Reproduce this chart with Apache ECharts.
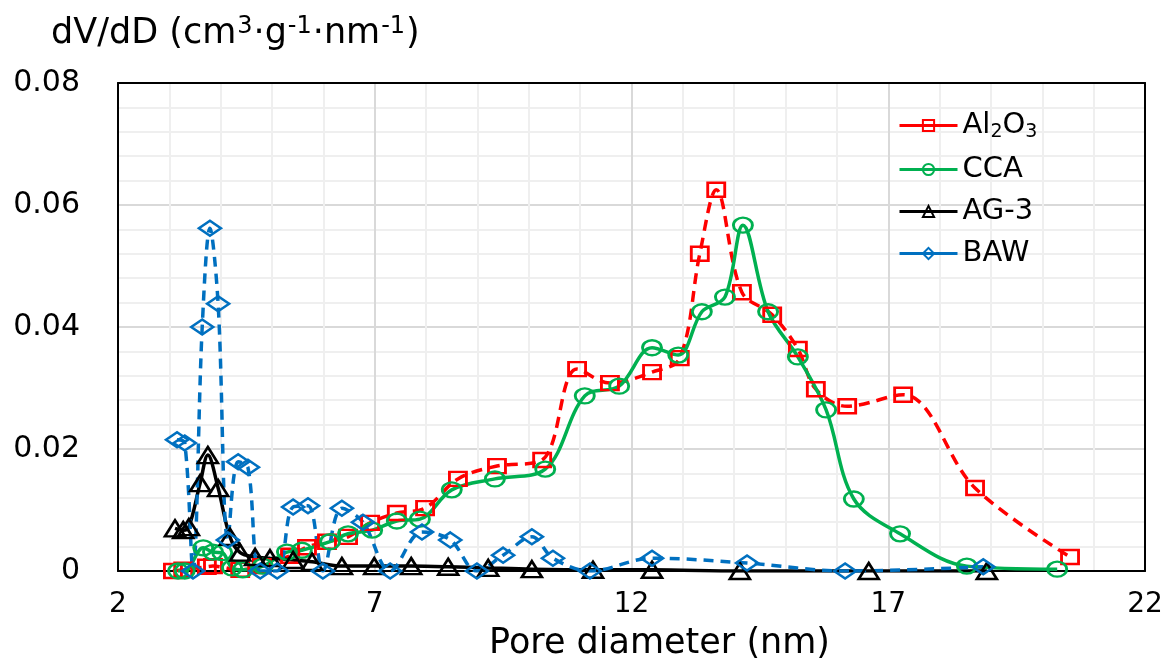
<!DOCTYPE html>
<html>
<head>
<meta charset="utf-8">
<script src="https://cdn.jsdelivr.net/npm/echarts@6/dist/echarts.min.js"></script>
<style>
html,body{margin:0;padding:0;background:#fff;}
#chart{width:1167px;height:659px;}
</style>
</head>
<body>
<div id="chart"></div>
<script>
// Data (x: pore diameter nm, y: dV/dD)
const al2o3X = [3.07,3.27,3.73,3.85,4.38,4.80,5.35,5.68,6.07,6.48,6.91,7.43,7.98,8.62,9.38,10.26,10.94,11.58,12.40,12.94,13.33,13.65,14.15,14.74,15.24,15.59,16.20,17.29,18.69,20.54];
const al2o3Y = [0,0.0002,0.0007,0.0008,0.0002,0.0008,0.0025,0.0039,0.0048,0.0056,0.0079,0.0095,0.0103,0.0151,0.0172,0.0182,0.0331,0.0308,0.0326,0.0349,0.0520,0.0625,0.0457,0.0420,0.0364,0.0298,0.0270,0.0289,0.0136,0.0023];

const ccaX = [3.17,3.30,3.66,3.85,4.03,4.22,4.43,4.82,5.29,5.58,6.13,6.48,6.95,7.43,7.88,8.50,9.34,10.32,11.09,11.76,12.40,12.91,13.37,13.82,14.17,14.66,15.24,15.79,16.33,17.23,18.53,20.29];
const ccaY = [0,0,0.0038,0.0031,0.0030,0.0005,0.0002,0.0008,0.0031,0.0034,0.0048,0.0061,0.0067,0.0082,0.0085,0.0133,0.0151,0.0167,0.0287,0.0303,0.0366,0.0354,0.0425,0.0449,0.0567,0.0425,0.0351,0.0264,0.0118,0.0061,0.0008,0.0003];

const ag3X = [3.11,3.27,3.38,3.60,3.75,3.95,4.18,4.38,4.67,4.96,5.41,5.78,6.36,6.99,7.71,8.43,9.21,10.06,11.25,12.40,14.11,16.62,18.92];
const ag3Y = [0.0070,0.0067,0.0072,0.0144,0.0190,0.0136,0.0056,0.0030,0.0023,0.0021,0.0018,0.0015,0.0008,0.0008,0.0008,0.0007,0.0005,0.0003,0.0002,0.0002,0,0,0];

const bawX = [3.15,3.30,3.46,3.64,3.79,3.95,4.14,4.34,4.53,4.77,5.10,5.41,5.70,5.99,6.36,6.77,7.30,7.92,8.47,8.99,9.50,10.06,10.47,11.19,12.40,14.25,16.16,18.85];
const bawY = [0.0215,0.0210,0,0.0400,0.0562,0.0438,0.0051,0.0179,0.0170,0,0,0.0105,0.0107,0,0.0103,0.0080,0,0.0064,0.0051,0,0.0026,0.0056,0.0021,0,0.0021,0.0013,0,0.0007];

const xTicks = [2,7,12,17,22];
const yTicks = [0,0.02,0.04,0.06,0.08];
const seriesNames = ['Al2O3','CCA','AG-3','BAW'];

function pairs(xs, ys){ return xs.map((x,i)=>[x, ys[i]]); }

const chart = echarts.init(document.getElementById('chart'), null, {renderer:'canvas'});
const font = 'DejaVu Sans';

function mk(name, xs, ys, color, symbol, size, dash){
  return {
    name: name,
    type: 'line',
    data: pairs(xs, ys),
    smooth: 0.35,
    symbol: symbol,
    symbolSize: size,
    showAllSymbol: true,
    lineStyle: {color: color, width: 3.5, type: dash || 'solid'},
    itemStyle: {color: 'rgba(255,255,255,0)', borderColor: color, borderWidth: 2.6},
    emphasis: {disabled: true},
    z: 2
  };
}

const hiddenAxisBits = {
  axisTick: {show: false}, axisLabel: {show: false},
  splitLine: {show: false}, minorSplitLine: {show: false}
};

const option = {
  animation: false,
  backgroundColor: '#fff',
  title: {
    text: 'dV/dD (cm{sup|3}·g{sup|-1}·nm{sup|-1})',
    left: 46, top: 10,
    textStyle: {fontFamily: font, fontSize: 35, fontWeight: 'normal', color: '#000',
      rich: {sup: {fontFamily: font, fontSize: 24, color: '#000', padding: [0,1,13,1]}}}
  },
  grid: {left: 118, right: 22, top: 83, bottom: 88, containLabel: false, outerBoundsMode: 'none'},
  legend: {
    orient: 'vertical',
    left: 893, top: 106,
    itemWidth: 58, itemHeight: 14, itemGap: 13,
    data: seriesNames,
    lineStyle: {type: 'solid', width: 3},
    formatter: function(n){ return n === 'Al2O3' ? 'Al{sub|2}O{sub|3}' : n; },
    textStyle: {fontFamily: font, fontSize: 29, color: '#000',
      rich: {sub: {fontFamily: font, fontSize: 19, color: '#000', padding: [14,0,0,0]}}}
  },
  xAxis: [{
    type: 'value', min: 2, max: 22, interval: 5,
    name: 'Pore diameter (nm)', nameLocation: 'middle', nameGap: 55,
    nameTextStyle: {fontFamily: font, fontSize: 35, color: '#000', padding: [0,0,0,56]},
    axisLine: {show: true, onZero: false, lineStyle: {color: '#000', width: 2}},
    axisTick: {show: false},
    axisLabel: {fontFamily: font, fontSize: 28, color: '#000', margin: 20,
      formatter: v => xTicks.includes(v) ? String(v) : ''},
    splitLine: {show: true, lineStyle: {color: '#d9d9d9', width: 2}},
    minorTick: {show: false, splitNumber: 5},
    minorSplitLine: {show: true, lineStyle: {color: '#efefef', width: 2}}
  }, Object.assign({
    type: 'value', min: 2, max: 22, interval: 5, position: 'top',
    axisLine: {show: true, onZero: false, lineStyle: {color: '#000', width: 2}}
  }, hiddenAxisBits)],
  yAxis: [{
    type: 'value', min: 0, max: 0.08, interval: 0.02,
    axisLine: {show: true, lineStyle: {color: '#000', width: 2}},
    axisTick: {show: false},
    axisLabel: {fontFamily: font, fontSize: 30, color: '#000', margin: 38,
      formatter: v => { const t = yTicks.find(k => Math.abs(k - v) < 1e-9); return t === undefined ? '' : (t === 0 ? '0' : t.toFixed(2)); }},
    splitLine: {show: true, lineStyle: {color: '#d9d9d9', width: 2}},
    minorTick: {show: false, splitNumber: 5},
    minorSplitLine: {show: true, lineStyle: {color: '#efefef', width: 2}}
  }, Object.assign({
    type: 'value', min: 0, max: 0.08, interval: 0.02, position: 'right',
    axisLine: {show: true, onZero: false, lineStyle: {color: '#000', width: 2}}
  }, hiddenAxisBits)],
  series: [
    mk('Al2O3', al2o3X, al2o3Y, '#ff0000', 'rect', [17,14], [11,7]),
    mk('CCA', ccaX, ccaY, '#00b050', 'circle', [19,15], null),
    mk('AG-3', ag3X, ag3Y, '#000000', 'triangle', [20,16], null),
    mk('BAW', bawX, bawY, '#0070c0', 'diamond', [22,15], [10,7])
  ]
};
chart.setOption(option);
</script>
</body>
</html>
